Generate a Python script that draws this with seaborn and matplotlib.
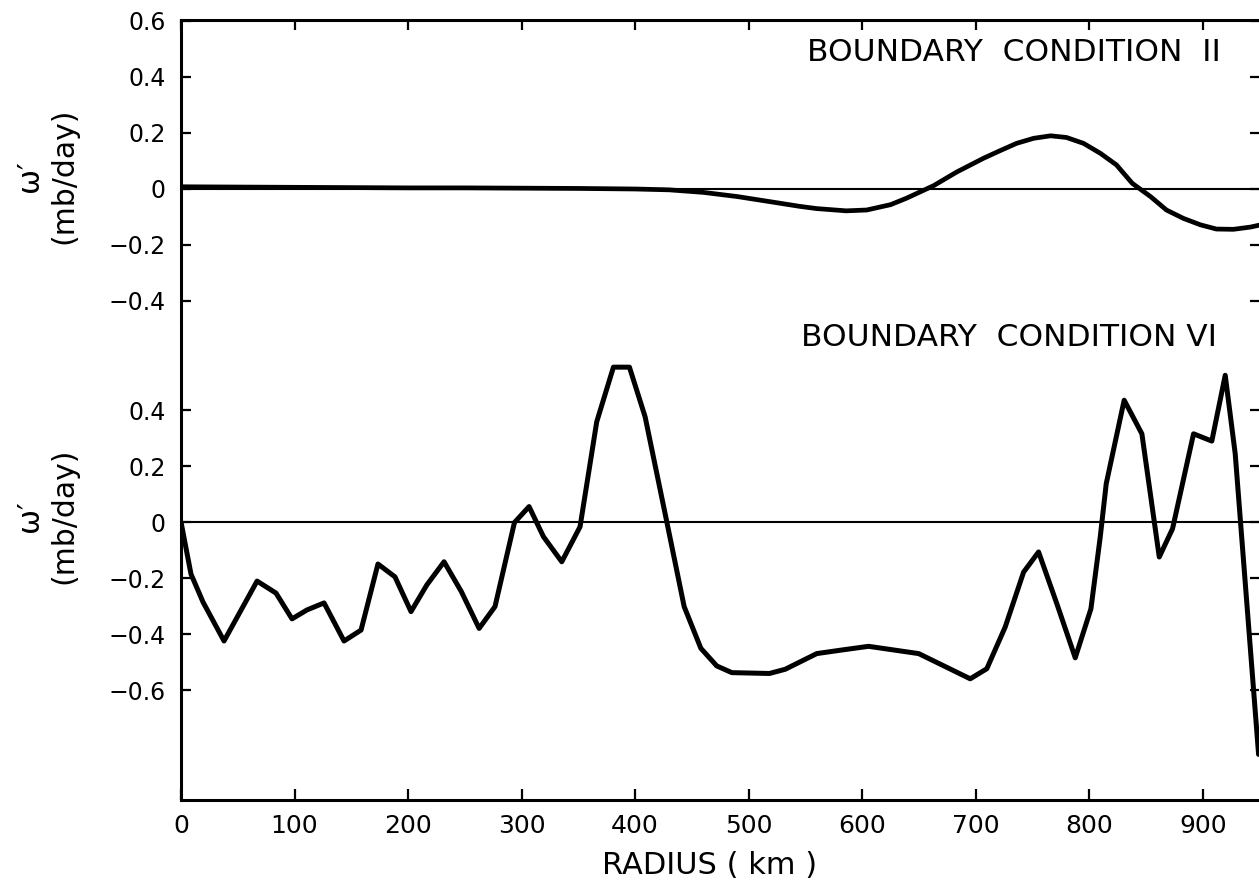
import matplotlib
matplotlib.use("Agg")
import matplotlib.pyplot as plt
import seaborn as sns
import pandas as pd

# ---------------- data ----------------
radius_ii = [0, 50, 100, 150, 200, 250, 300, 350, 400, 430, 460, 490, 520, 545,
             560, 586, 604, 625, 639, 663, 683, 707, 721, 736, 751, 766, 780,
             795, 810, 824, 838, 854, 868, 883, 898, 912, 927, 942, 950]
omega_ii = [0.008, 0.007, 0.006, 0.005, 0.004, 0.004, 0.003, 0.002, 0.0, -0.003,
            -0.012, -0.027, -0.046, -0.062, -0.07, -0.078, -0.075, -0.056,
            -0.033, 0.012, 0.06, 0.11, 0.136, 0.163, 0.181, 0.19, 0.184, 0.163,
            0.127, 0.086, 0.02, -0.027, -0.075, -0.105, -0.128, -0.143, -0.144,
            -0.136, -0.129]

radius_vi = [0, 8.8, 19.4, 37.9, 67, 83.7, 97.8, 111, 126, 143.6, 158.6, 173.5,
             188.5, 202.6, 216.5, 231.7, 247, 262.6, 276.6, 293.7, 306.6, 319.2,
             335.4, 351.5, 366.2, 380.9, 395, 408.8, 427.9, 443.2, 457.9, 471.9,
             485.2, 518.3, 532.2, 560, 580.6, 605.6, 649.8, 695.2, 709.8, 726,
             742.2, 755.4, 771.5, 787.7, 801.5, 809.7, 815, 830.8, 846.4, 861.7,
             873.4, 891.9, 908, 919.8, 928.6, 949.2]
omega_vi = [0.0, -0.186, -0.286, -0.425, -0.211, -0.254, -0.346, -0.314, -0.289,
            -0.425, -0.386, -0.15, -0.196, -0.32, -0.225, -0.142, -0.249, -0.38,
            -0.302, -0.002, 0.055, -0.052, -0.142, -0.017, 0.358, 0.553, 0.553,
            0.376, 0.001, -0.302, -0.451, -0.514, -0.538, -0.541, -0.526, -0.47,
            -0.458, -0.444, -0.47, -0.56, -0.524, -0.375, -0.179, -0.107, -0.292,
            -0.485, -0.31, -0.054, 0.137, 0.435, 0.315, -0.125, -0.024, 0.315,
            0.289, 0.524, 0.244, -0.83]

x_ticks = [0, 100, 200, 300, 400, 500, 600, 700, 800, 900]
x_tick_labels = ["0", "100", "200", "300", "400", "500", "600", "700", "800", "900"]
top_y_ticks = [-0.4, -0.2, 0, 0.2, 0.4, 0.6]
top_y_labels = ["\u22120.4", "\u22120.2", "0", "0.2", "0.4", "0.6"]
bot_y_ticks = [-0.6, -0.4, -0.2, 0, 0.2, 0.4]
bot_y_labels = ["\u22120.6", "\u22120.4", "\u22120.2", "0", "0.2", "0.4"]

title_ii = "BOUNDARY  CONDITION  II"
title_vi = "BOUNDARY  CONDITION VI"
y_label = "\u03c9\u2032\n(mb/day)"
x_label = "RADIUS ( km )"

df_ii = pd.DataFrame({"radius": radius_ii, "omega": omega_ii})
df_vi = pd.DataFrame({"radius": radius_vi, "omega": omega_vi})

# ---------------- style ----------------
sns.set_theme(style="white")
plt.rcParams['font.family'] = ['DejaVu Sans']
plt.rcParams['text.color'] = 'black'
plt.rcParams['axes.edgecolor'] = 'black'
plt.rcParams['xtick.color'] = 'black'
plt.rcParams['ytick.color'] = 'black'

W, H = 1259, 891
fig = plt.figure(figsize=(W / 100, H / 100), dpi=100)


def rect(l, t, r, b):
    return [l / W, 1 - b / H, (r - l) / W, (b - t) / H]


ax1 = fig.add_axes(rect(181, 20, 1259.5, 320))
ax2 = fig.add_axes(rect(181, 320, 1259.5, 800))

sns.lineplot(data=df_ii, x="radius", y="omega", ax=ax1, color="black",
             linewidth=3.4, sort=False, estimator=None)
sns.lineplot(data=df_vi, x="radius", y="omega", ax=ax2, color="black",
             linewidth=3.6, sort=False, estimator=None)

for ax in (ax1, ax2):
    ax.axhline(0, color="black", linewidth=1.5, zorder=1)
    ax.set_xlim(0, 950)
    ax.set_xlabel("")
    ax.set_ylabel("")
    ax.spines['right'].set_visible(False)
    for s in ax.spines.values():
        s.set_linewidth(2.2)
        s.set_color("black")

ax1.set_ylim(-(320 - 189) / 280, (189 - 20) / 280)
ax2.set_ylim(-(800 - 522) / 280, (522 - 320) / 280)

ax1.spines['bottom'].set_visible(False)
ax2.spines['top'].set_visible(False)

ax1.set_yticks(top_y_ticks)
ax1.set_yticklabels(top_y_labels)
ax2.set_yticks(bot_y_ticks)
ax2.set_yticklabels(bot_y_labels)
for ax in (ax1, ax2):
    ax.set_xticks(x_ticks)
ax2.set_xticklabels(x_tick_labels)

ax1.tick_params(axis='y', direction='in', left=True, right=True, length=7,
                width=1.6, labelsize=17, pad=11)
ax2.tick_params(axis='y', direction='in', left=True, right=True, length=7,
                width=1.6, labelsize=17, pad=11)
ax1.tick_params(axis='x', direction='in', top=True, bottom=False,
                labeltop=False, labelbottom=False, length=7, width=1.6)
ax2.tick_params(axis='x', direction='in', top=False, bottom=True,
                labelbottom=True, length=8, width=1.6, labelsize=18, pad=10)

ax1.text(0.9645, 0.893, title_ii, transform=ax1.transAxes, ha='right',
         va='center', fontsize=22.5)
ax2.text(0.961, 0.9625, title_vi, transform=ax2.transAxes, ha='right',
         va='center', fontsize=22.5)

fig.text(46.5 / W, 1 - 176 / H, y_label, rotation=90, ha='center', va='center',
         fontsize=21.5, linespacing=1.25, multialignment='center')
fig.text(46.5 / W, 1 - 516 / H, y_label, rotation=90, ha='center', va='center',
         fontsize=21.5, linespacing=1.25, multialignment='center')
fig.text(710 / W, 1 - 866 / H, x_label, ha='center', va='center', fontsize=22)

fig.savefig("out.png", dpi=100, facecolor="white")
